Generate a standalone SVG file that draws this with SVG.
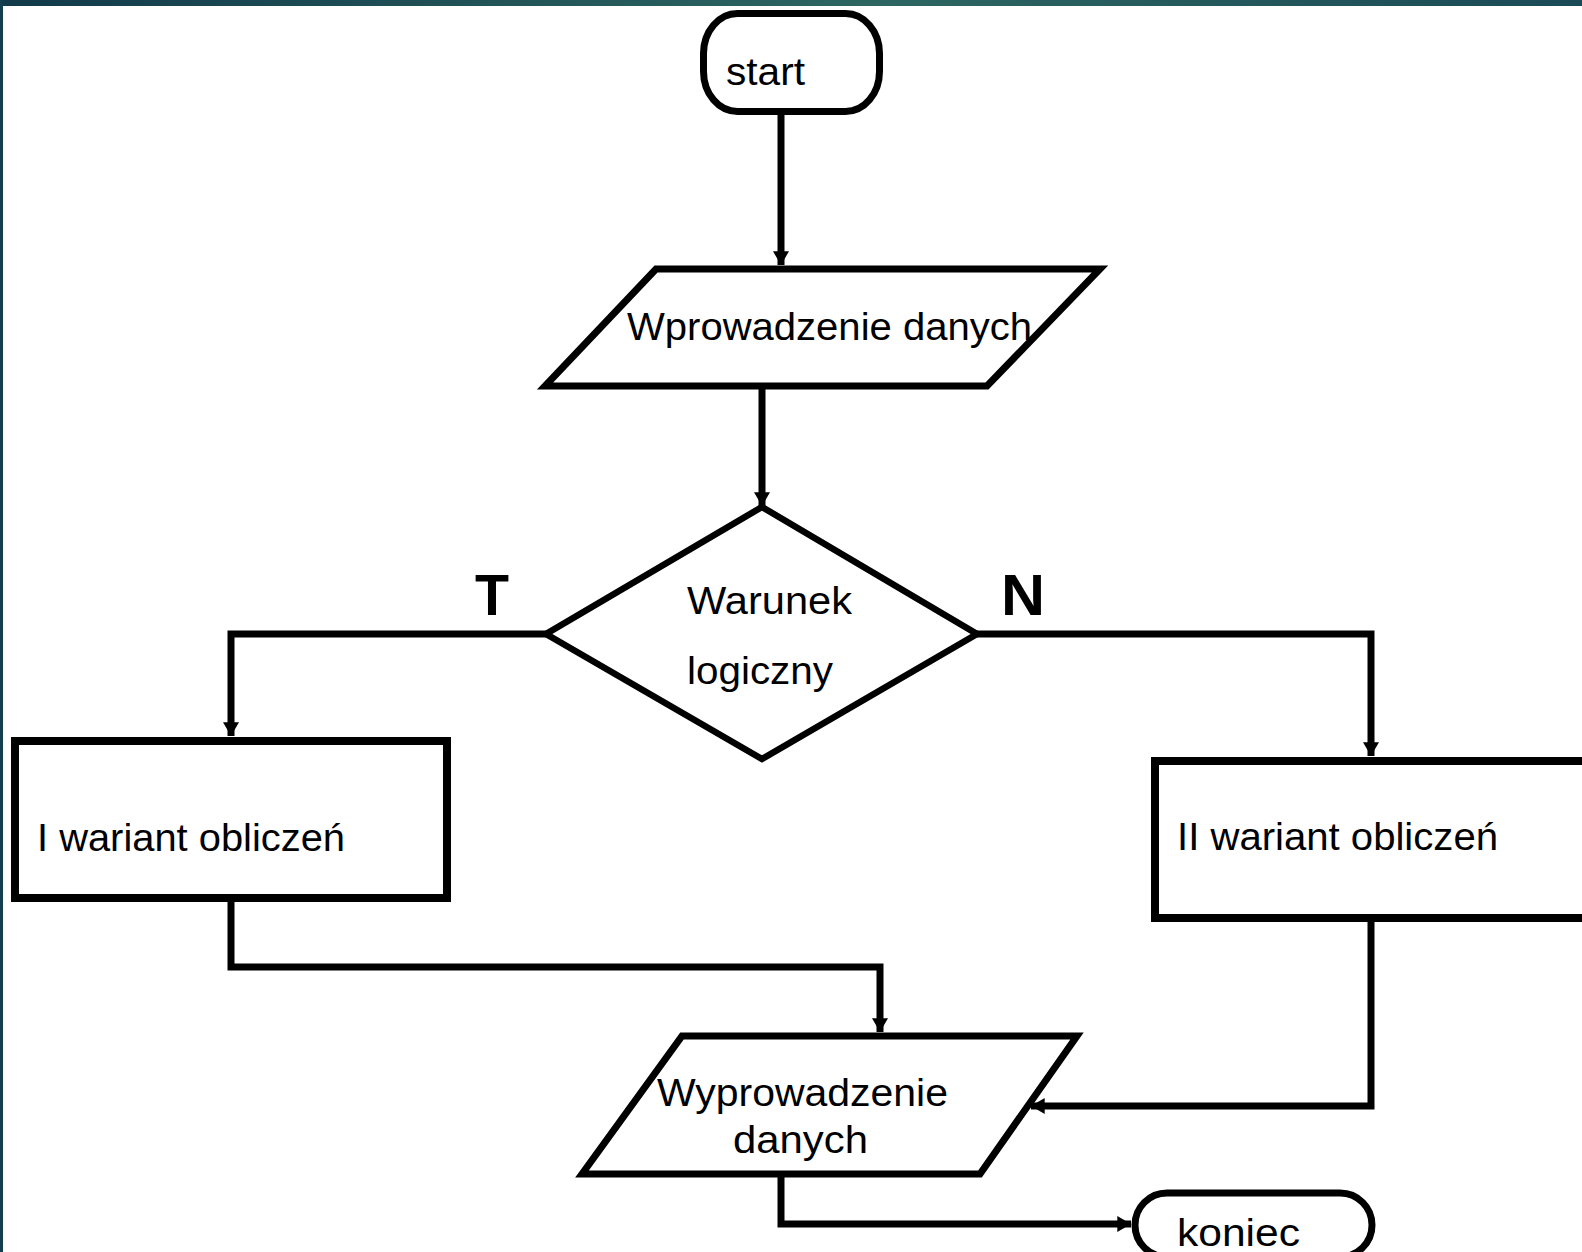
<svg xmlns="http://www.w3.org/2000/svg" width="1582" height="1252" viewBox="0 0 1582 1252">
<defs>
<linearGradient id="topbar" x1="0" y1="0" x2="1" y2="0">
<stop offset="0" stop-color="#123a4a"/>
<stop offset="0.55" stop-color="#2d6661"/>
<stop offset="1" stop-color="#1a4a56"/>
</linearGradient>
<marker id="arr" markerUnits="userSpaceOnUse" markerWidth="16" markerHeight="16" viewBox="0 0 12 14" refX="12" refY="7" orient="auto">
<path d="M0,0 L12,7 L0,14 Z" fill="#000"/>
</marker>
<style>
.shape{fill:#fff;stroke:#000;stroke-width:7;stroke-linejoin:miter}
.box{fill:#fff;stroke:#000;stroke-width:8}
.conn{fill:none;stroke:#000;stroke-width:7;stroke-linejoin:miter}
.t{font-family:"Liberation Sans",Arial,sans-serif;font-size:38px;fill:#000}
.tb{font-family:"Liberation Sans",Arial,sans-serif;font-size:58px;font-weight:bold;fill:#000}
</style>
</defs>
<rect x="0" y="0" width="1582" height="1252" fill="#fff"/>
<rect x="0" y="0" width="1582" height="6" fill="url(#topbar)"/>
<rect x="0" y="0" width="3" height="1252" fill="#133f4f"/>

<g id="connectors">
<path class="conn" d="M781,112 V265" marker-end="url(#arr)"/>
<path class="conn" d="M762,386 V506" marker-end="url(#arr)"/>
<path class="conn" d="M546,634 H231 V736" marker-end="url(#arr)"/>
<path class="conn" d="M977,634 H1371 V756" marker-end="url(#arr)"/>
<path class="conn" d="M231,898 V967 H880 V1032" marker-end="url(#arr)"/>
<path class="conn" d="M1371,918 V1106 H1031" marker-end="url(#arr)"/>
<path class="conn" d="M781,1174 V1224 H1131" marker-end="url(#arr)"/>
</g>

<g id="start">
<rect class="shape" x="703.5" y="13.5" width="176" height="98" rx="34" ry="40"/>
<text class="t" x="726" y="85" textLength="79" lengthAdjust="spacingAndGlyphs">start</text>
</g>

<g id="input">
<polygon class="shape" points="656,269 1100,269 987,386 545,386"/>
<text class="t" x="627" y="340" textLength="405" lengthAdjust="spacingAndGlyphs">Wprowadzenie danych</text>
</g>

<g id="decision">
<polygon class="shape" style="stroke-width:6.5" points="762,507 977,634 762,759 546,634"/>
<text class="t" x="687" y="614" textLength="165" lengthAdjust="spacingAndGlyphs">Warunek</text>
<text class="t" x="687" y="684" textLength="146" lengthAdjust="spacingAndGlyphs">logiczny</text>
</g>

<g id="label-T">
<text class="tb" x="475" y="615" textLength="34" lengthAdjust="spacingAndGlyphs">T</text>
</g>
<g id="label-N">
<text class="tb" x="1001" y="615" textLength="44" lengthAdjust="spacingAndGlyphs">N</text>
</g>

<g id="variant1">
<rect class="box" x="15" y="741" width="432" height="157"/>
<text class="t" x="37" y="851" textLength="308" lengthAdjust="spacingAndGlyphs">I wariant obliczeń</text>
</g>

<g id="variant2">
<rect class="box" x="1155" y="761" width="440" height="157"/>
<text class="t" x="1177" y="850" textLength="321" lengthAdjust="spacingAndGlyphs">II wariant obliczeń</text>
</g>

<g id="output">
<polygon class="shape" points="682,1036 1077,1036 980,1174 582,1174"/>
<text class="t" x="657" y="1106" textLength="291" lengthAdjust="spacingAndGlyphs">Wyprowadzenie</text>
<text class="t" x="733" y="1153" textLength="135" lengthAdjust="spacingAndGlyphs">danych</text>
</g>

<g id="end">
<rect class="shape" x="1135" y="1193" width="237" height="64" rx="32" ry="32"/>
<text class="t" x="1177" y="1246" textLength="123" lengthAdjust="spacingAndGlyphs">koniec</text>
</g>
</svg>
